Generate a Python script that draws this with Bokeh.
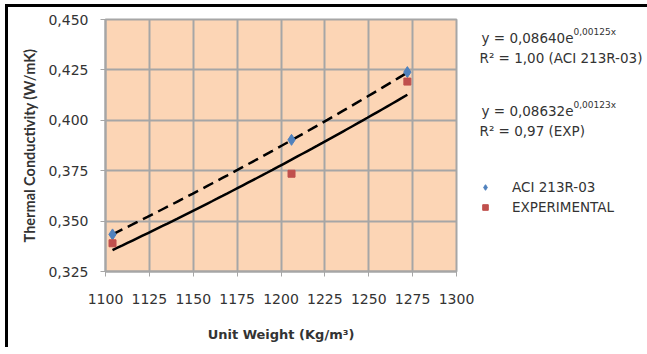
import numpy as np
from bokeh.plotting import figure
from bokeh.layouts import row, column
from bokeh.models import (Range1d, FixedTicker, CustomJSTickFormatter, Legend, LegendItem,
                          ColumnDataSource, Spacer)
from bokeh.core.properties import value
from bokeh.embed import file_html
from bokeh.resources import INLINE

# ---- data ----
aci_x = [1104, 1206, 1272]
aci_y = [0.3434, 0.3903, 0.4239]
exp_x = [1104, 1206, 1272]
exp_y = [0.3390, 0.3735, 0.4192]

# trend-line equations as printed on the chart: y = a * exp(b x)
aci_a, aci_b = 0.08640, 0.00125
exp_a, exp_b = 0.08632, 0.00123

x_ticks = [1100, 1125, 1150, 1175, 1200, 1225, 1250, 1275, 1300]
y_ticks = [0.325, 0.350, 0.375, 0.400, 0.425, 0.450]

eq_main = ["y = 0,08640e", "y = 0,08632e"]
eq_sup = ["0,00125x", "0,00123x"]
eq_r2 = ["R² = 1,00 (ACI 213R-03)", "R² = 0,97 (EXP)"]
legend_names = ["ACI 213R-03", "EXPERIMENTAL"]

FONT = "DejaVu Sans"
TXT = "#333333"
GRID = "#a6a6a6"
BLUE = "#4f81bd"
RED = "#c0504d"

p = figure(width=470, height=340, output_backend="svg", toolbar_location=None,
           x_range=Range1d(1100, 1300), y_range=Range1d(0.325, 0.450),
           min_border_left=97, min_border_top=12, min_border_right=22, min_border_bottom=76)
p.background_fill_color = "#fcd5b5"
p.border_fill_color = "white"
p.outline_line_color = GRID
p.outline_line_width = 2

for ax in (p.xaxis[0], p.yaxis[0]):
    ax.axis_line_color = GRID
    ax.axis_line_width = 2
    ax.major_tick_line_color = GRID
    ax.major_tick_line_width = 1
    ax.major_tick_out = 5
    ax.major_tick_in = 0
    ax.minor_tick_line_color = None
    ax.major_label_text_font = FONT
    ax.major_label_text_font_size = "14px"
    ax.major_label_text_color = TXT
    ax.axis_label_text_font_style = "bold"
    ax.axis_label_text_color = TXT

p.xaxis.axis_label_text_font = FONT
p.xaxis.axis_label_text_font_size = "13px"
p.yaxis.axis_label_text_font = "Lato"
p.yaxis.axis_label_text_font_size = "14.5px"

p.xaxis.ticker = FixedTicker(ticks=x_ticks)
p.yaxis.ticker = FixedTicker(ticks=y_ticks)
p.yaxis.formatter = CustomJSTickFormatter(code="return tick.toFixed(3).replace('.', ',');")
p.xaxis.major_label_standoff = 17
p.yaxis.major_label_standoff = 12
p.xaxis.axis_label = "Unit Weight (Kg/m³)"
p.yaxis.axis_label = "Thermal Conductivity (W/mK)"
p.xaxis.axis_label_standoff = 20
p.yaxis.axis_label_standoff = 7

p.xgrid.ticker = FixedTicker(ticks=x_ticks)
p.ygrid.ticker = FixedTicker(ticks=y_ticks)
for g in (p.xgrid[0], p.ygrid[0]):
    g.grid_line_color = GRID
    g.grid_line_width = 2

# trend lines from the printed equations, over the data span
tx1 = np.linspace(min(aci_x), max(aci_x), 60)
tx2 = np.linspace(min(exp_x), max(exp_x), 60)
p.line(tx1, aci_a * np.exp(aci_b * tx1), line_color="black", line_width=2.5, line_dash="11 6")
p.line(tx2, exp_a * np.exp(exp_b * tx2), line_color="black", line_width=2.5)

p.scatter(aci_x, aci_y, marker="diamond", size=11, fill_color=BLUE, line_color=BLUE)
p.scatter(exp_x, exp_y, marker="square", size=7, fill_color=RED, line_color=RED)


def blank(w, h, xr, yr):
    f = figure(width=w, height=h, output_backend="svg", toolbar_location=None,
               x_range=Range1d(*xr), y_range=Range1d(*yr),
               min_border=0, x_axis_type=None, y_axis_type=None)
    f.grid.visible = False
    f.outline_line_color = None
    f.background_fill_color = "white"
    f.border_fill_color = "white"
    return f


# ---- equations panel (page-pixel coordinates) ----
side_eq = blank(169, 171, (478, 647), (178, 7))
main_src = ColumnDataSource(dict(x=[481, 479, 481, 479], y=[37, 57, 110, 130],
                                 t=[eq_main[0], eq_r2[0], eq_main[1], eq_r2[1]]))
side_eq.text(x="x", y="y", text="t", source=main_src, text_font=value(FONT),
             text_font_size="13.5px", text_color=TXT, text_baseline="middle", text_align="left")
sup_src = ColumnDataSource(dict(x=[573, 573], y=[31, 104], t=eq_sup))
side_eq.text(x="x", y="y", text="t", source=sup_src, text_font=value(FONT),
             text_font_size="9px", text_color=TXT, text_baseline="middle", text_align="left")

# ---- legend panel (series drawn off-range here; only their legend swatches show) ----
side_leg = blank(169, 169, (0, 1), (0, 1))
d1 = side_leg.scatter(aci_x, aci_y, marker="diamond", size=11, fill_color=BLUE, line_color=BLUE)
d2 = side_leg.scatter(exp_x, exp_y, marker="square", size=7, fill_color=RED, line_color=RED)
legend = Legend(items=[LegendItem(label=legend_names[0], renderers=[d1]),
                       LegendItem(label=legend_names[1], renderers=[d2])],
                location="top_left", padding=0, margin=0, spacing=2,
                glyph_width=14, glyph_height=18, label_height=18, label_standoff=20,
                label_text_font=FONT, label_text_font_size="13.5px", label_text_color=TXT,
                background_fill_alpha=0, border_line_color=None)
side_leg.add_layout(legend, "center")

# ---- black frame lines (top and left) ----
top_bar = Spacer(width=642, height=3, styles={"background-color": "black"})
left_bar = Spacer(width=3, height=340, styles={"background-color": "black"})

layout = column(
    Spacer(width=647, height=4),
    row(Spacer(width=5, height=343),
        column(top_bar,
               row(left_bar, p, column(side_eq, side_leg)))))

open("out.html", "w").write(file_html(layout, INLINE))
